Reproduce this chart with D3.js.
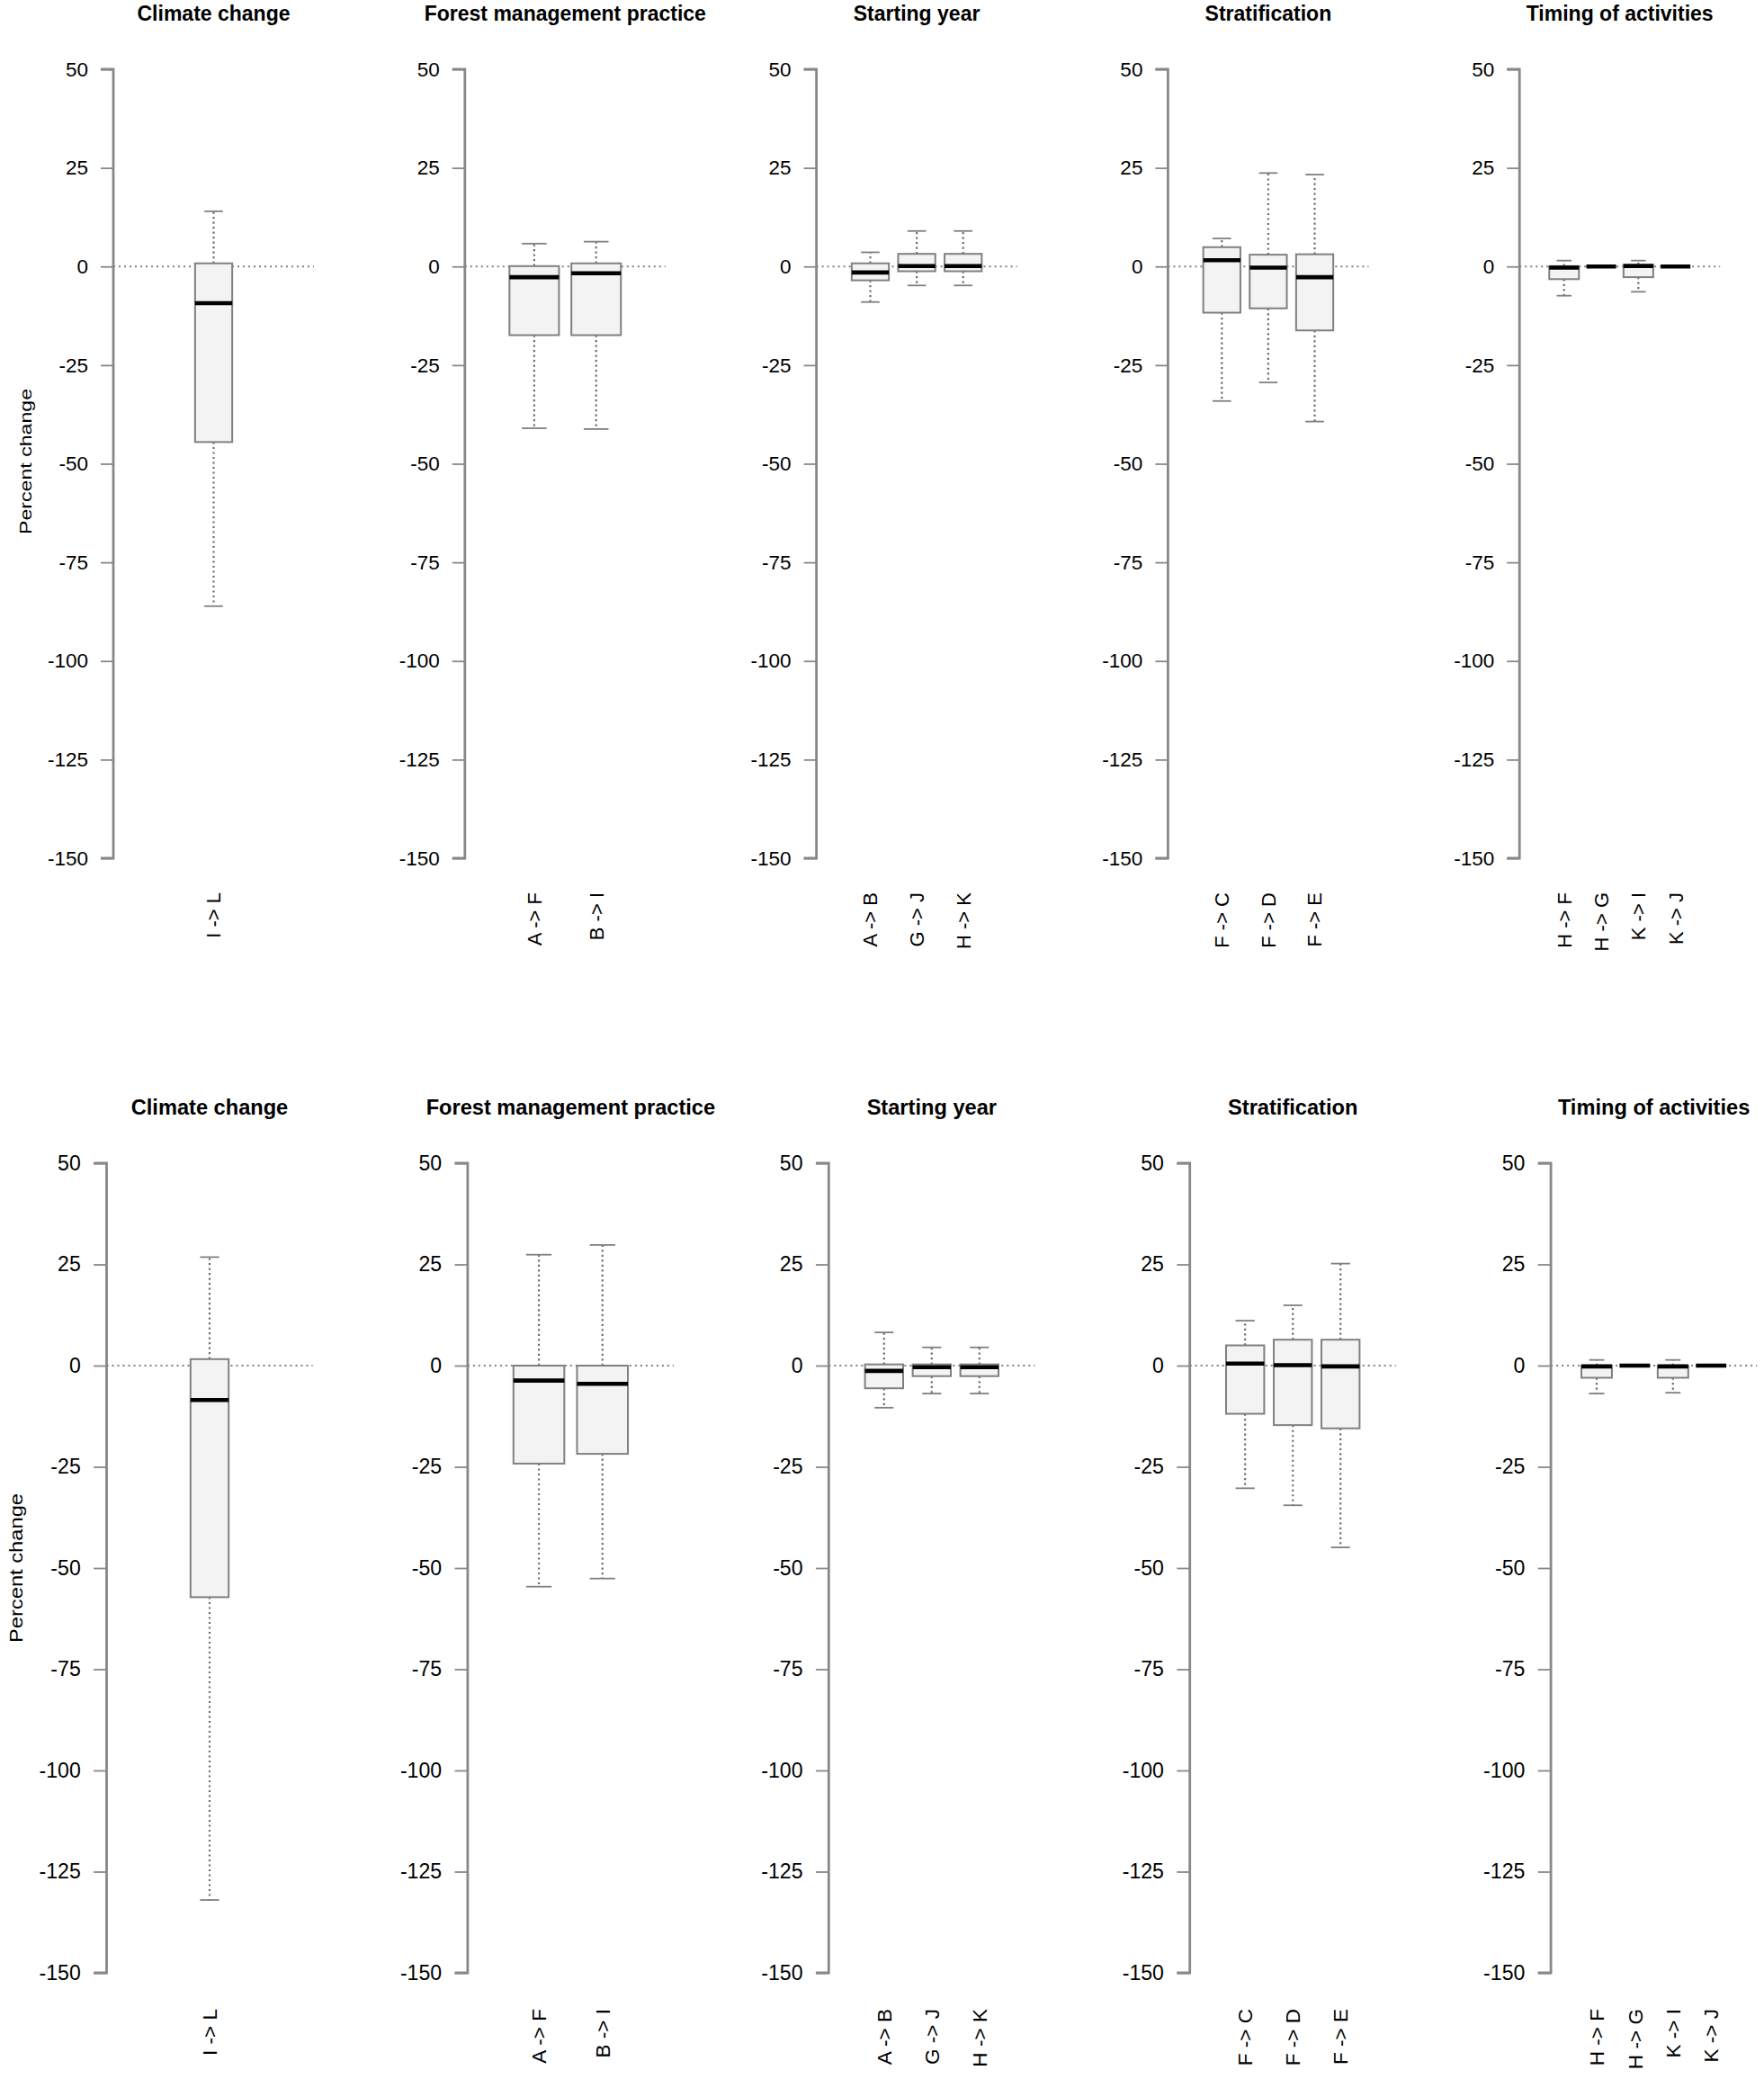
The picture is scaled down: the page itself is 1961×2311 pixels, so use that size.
<!DOCTYPE html>
<html>
<head>
<meta charset="utf-8">
<script src="https://cdnjs.cloudflare.com/ajax/libs/d3/7.8.5/d3.min.js"></script>
<style>
  html, body { margin: 0; padding: 0; background: #ffffff; }
  svg { display: block; }
</style>
</head>
<body>
<script>
// ---------------- DATA ----------------
const groups = ["Climate change", "Forest management practice", "Starting year", "Stratification", "Timing of activities"];
const categories = [
  ["I -> L"],
  ["A -> F", "B -> I"],
  ["A -> B", "G -> J", "H -> K"],
  ["F -> C", "F -> D", "F -> E"],
  ["H -> F", "H -> G", "K -> I", "K -> J"]
];
const yTicks = [50, 25, 0, -25, -50, -75, -100, -125, -150];
const yTickLabels = ["50", "25", "0", "-25", "-50", "-75", "-100", "-125", "-150"];
const yLabel = "Percent change";

// Top row: whisker low, Q1, median, Q3, whisker high
const topLow    = [[-86.1], [-41.0, -41.2], [-9.0, -4.8, -4.8], [-34.1, -29.4, -39.3], [-7.4, 0, -6.4, 0]];
const topQ1     = [[-44.5], [-17.4, -17.4], [-3.5, -1.2, -1.2], [-11.7, -10.6, -16.2], [-3.2, 0, -2.7, 0]];
const topMedian = [[-9.3],  [-2.7, -1.7],   [-1.5, 0.1, 0.1],   [1.6, -0.3, -2.7],     [-0.3, 0, 0.1, 0]];
const topQ3     = [[0.8],   [0.1, 0.8],     [0.8, 3.2, 3.2],    [4.9, 3.0, 3.1],       [0.1, 0, 0.5, 0]];
const topHigh   = [[14.0],  [5.8, 6.3],     [3.6, 9.0, 9.0],    [7.1, 23.7, 23.3],     [1.5, 0, 1.5, 0]];

// Bottom row
const botLow    = [[-132.0], [-54.6, -52.6], [-10.4, -6.9, -6.9], [-30.3, -34.5, -44.9], [-6.9, 0, -6.7, 0]];
const botQ1     = [[-57.2],  [-24.2, -21.8], [-5.6, -2.6, -2.6],  [-11.9, -14.7, -15.5], [-3.0, 0, -3.0, 0]];
const botMedian = [[-8.5],   [-3.7, -4.5],   [-1.3, -0.4, -0.4],  [0.5, 0.1, -0.2],      [-0.2, 0, -0.2, 0]];
const botQ3     = [[1.6],    [0.0, 0.0],     [0.3, 0.3, 0.3],     [5.0, 6.4, 6.4],       [0.0, 0, 0.0, 0]];
const botHigh   = [[26.8],   [27.4, 29.8],   [8.2, 4.5, 4.5],     [11.1, 14.9, 25.2],    [1.4, 0, 1.4, 0]];

// ---------------- LAYOUT ----------------
const W = 1961, H = 2311;
const rows = [
  { low: topLow, q1: topQ1, med: topMedian, q3: topQ3, high: topHigh,
    axis0: 126, step: 390.8, plotW: 223, yTop: 77, yBot: 954, titleY: 23, labelY: 992,
    ylabX: 28, ylabY: 513, ylabLen: 162, s: 1 },
  { low: botLow, q1: botQ1, med: botMedian, q3: botQ3, high: botHigh,
    axis0: 118.5, step: 401.4, plotW: 229, yTop: 1293, yBot: 2193, titleY: 1239, labelY: 2233,
    ylabX: 18, ylabY: 1743, ylabLen: 166, s: 1.027 }
];

const svg = d3.select("body").append("svg")
  .attr("width", W).attr("height", H)
  .attr("viewBox", `0 0 ${W} ${H}`)
  .style("font-family", "'Liberation Sans', Arial, Helvetica, sans-serif");

const grey = "#8c8c8c";

rows.forEach(row => {
  const s = row.s;
  const y = d3.scaleLinear().domain([50, -150]).range([row.yTop, row.yBot]);

  // y-axis title
  svg.append("text")
    .attr("transform", `translate(${row.ylabX},${row.ylabY}) rotate(-90)`)
    .attr("text-anchor", "middle")
    .attr("dy", "0.35em")
    .attr("font-size", 19 * s)
    .attr("textLength", row.ylabLen)
    .attr("lengthAdjust", "spacingAndGlyphs")
    .attr("fill", "#000")
    .text(yLabel);

  groups.forEach((g, gi) => {
    const cats = categories[gi];
    const n = cats.length;
    const ax = row.axis0 + gi * row.step;
    const x = d3.scaleLinear()
      .domain([-0.04 * (n + 1), 1.04 * (n + 1)])
      .range([ax, ax + row.plotW]);
    const unit = x(1) - x(0);
    const halfBox = (n === 1 ? 0.2 : 0.4) * unit;
    const halfStaple = halfBox * 0.5;

    const panel = svg.append("g");

    // Title
    panel.append("text")
      .attr("x", (x.range()[0] + x.range()[1]) / 2)
      .attr("y", row.titleY)
      .attr("text-anchor", "middle")
      .attr("font-size", 23 * s)
      .attr("font-weight", "bold")
      .attr("fill", "#000")
      .text(g);

    // Y axis
    const axis = d3.axisLeft(y).tickValues(yTicks).tickSize(14 * s).tickPadding(14 * s)
      .tickFormat((d, i) => yTickLabels[i]);
    const axG = panel.append("g").attr("transform", `translate(${ax},0)`).call(axis);
    axG.select(".domain").attr("stroke", "#888").attr("stroke-width", 2.8)
      .attr("d", `M-${14 * s},${y(50)}H0V${y(-150)}H-${14 * s}`);
    axG.selectAll(".tick line").attr("stroke", "#888").attr("stroke-width", 1.8);
    axG.selectAll(".tick text").attr("font-size", 22.5 * s).attr("fill", "#000")
      .attr("font-family", "'Liberation Sans', Arial, sans-serif");

    // zero reference line
    panel.append("line")
      .attr("x1", ax).attr("x2", x.range()[1])
      .attr("y1", y(0)).attr("y2", y(0))
      .attr("stroke", "#808080").attr("stroke-width", 1.8)
      .attr("stroke-dasharray", "2,4");

    const data = cats.map((c, i) => ({
      cat: c, pos: i + 1,
      low: row.low[gi][i], q1: row.q1[gi][i], med: row.med[gi][i],
      q3: row.q3[gi][i], high: row.high[gi][i]
    }));

    const bx = panel.selectAll("g.box").data(data).enter().append("g").attr("class", "box");

    // whiskers (dotted)
    bx.append("line")
      .attr("x1", d => x(d.pos)).attr("x2", d => x(d.pos))
      .attr("y1", d => y(d.q3)).attr("y2", d => y(d.high))
      .attr("stroke", "#6e6e6e").attr("stroke-width", 2.2).attr("stroke-dasharray", "2.2,3.3");
    bx.append("line")
      .attr("x1", d => x(d.pos)).attr("x2", d => x(d.pos))
      .attr("y1", d => y(d.q1)).attr("y2", d => y(d.low))
      .attr("stroke", "#6e6e6e").attr("stroke-width", 2.2).attr("stroke-dasharray", "2.2,3.3");
    // staples
    bx.append("line")
      .attr("x1", d => x(d.pos) - halfStaple).attr("x2", d => x(d.pos) + halfStaple)
      .attr("y1", d => y(d.high)).attr("y2", d => y(d.high))
      .attr("stroke", "#808080").attr("stroke-width", 1.8);
    bx.append("line")
      .attr("x1", d => x(d.pos) - halfStaple).attr("x2", d => x(d.pos) + halfStaple)
      .attr("y1", d => y(d.low)).attr("y2", d => y(d.low))
      .attr("stroke", "#808080").attr("stroke-width", 1.8);
    // box
    bx.append("rect")
      .attr("x", d => x(d.pos) - halfBox)
      .attr("width", 2 * halfBox)
      .attr("y", d => y(d.q3))
      .attr("height", d => Math.max(0, y(d.q1) - y(d.q3)))
      .attr("fill", "#f3f3f3")
      .attr("stroke", "#808080").attr("stroke-width", 2);
    // median
    bx.append("line")
      .attr("x1", d => x(d.pos) - halfBox).attr("x2", d => x(d.pos) + halfBox)
      .attr("y1", d => y(d.med)).attr("y2", d => y(d.med))
      .attr("stroke", "#000").attr("stroke-width", 4.6);

    // category labels (rotated)
    bx.append("text")
      .attr("transform", d => `translate(${x(d.pos)},${row.labelY}) rotate(-90)`)
      .attr("text-anchor", "end")
      .attr("dy", "0.36em")
      .attr("font-size", 22 * s)
      .attr("fill", "#000")
      .text(d => d.cat);
  });
});
</script>
</body>
</html>
